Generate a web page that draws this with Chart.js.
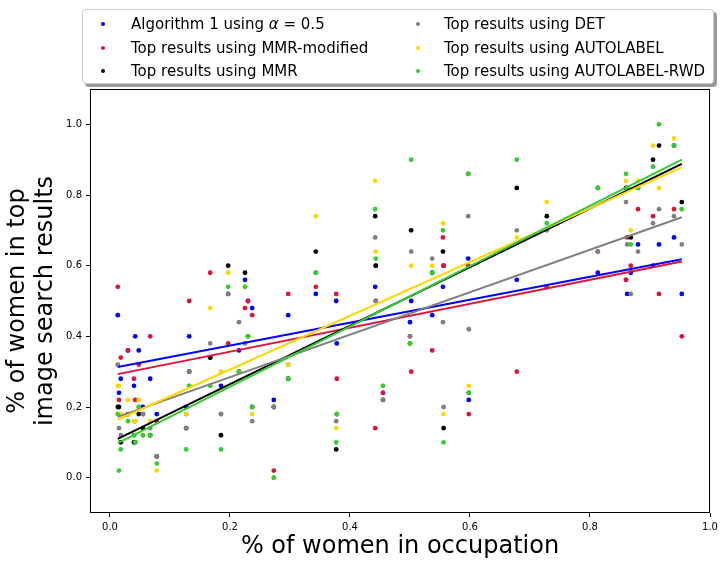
<!DOCTYPE html>
<html>
<head>
<meta charset="utf-8">
<script src="https://cdn.jsdelivr.net/npm/chart.js@4.4.1/dist/chart.umd.min.js"></script>
<style>
  html, body { margin: 0; padding: 0; background: #fff; }
  #wrap { position: relative; width: 726px; height: 566px; font-family: "DejaVu Sans", sans-serif; }
  #legend {
    position: absolute; left: 82px; top: 9px; width: 632px; height: 75px;
    box-sizing: border-box; border: 1px solid #cccccc; border-radius: 4px;
    background: #fff; box-shadow: 3px 3px 0 #9a9a9a;
  }
  .lg-dot { position: absolute; width: 4px; height: 4px; border-radius: 50%; }
  .lg-txt { position: absolute; font-size: 15px; line-height: 18px; white-space: nowrap; color: #000; }
</style>
</head>
<body>
<div id="wrap">
  <canvas id="chart" width="726" height="566"></canvas>
  <div id="legend"></div>
</div>
<script>
// ----------------- DATA -----------------
// x = share of women in each occupation
const occX = [0.013,0.015,0.018,0.030,0.040,0.042,0.048,0.055,0.067,0.078,
              0.127,0.132,0.167,0.185,0.197,0.215,0.225,0.230,0.237,0.273,
              0.297,0.343,0.377,0.378,0.442,0.443,0.455,0.502,0.500,0.537,
              0.555,0.556,0.597,0.598,0.678,0.728,0.813,0.860,0.862,0.868,
              0.880,0.905,0.915,0.940,0.953];

// y = share of women in the top image results, one list per method
const alg1 = [.46,.24,.28,.36,.26,.40,.36,.20,.28,.18, .20,.40,.34,.26,.52,.36,.56,.50,.48,.22,
              .46,.52,.50,.38,.54,.50,.24,.50,.44,.46, .54,.60,.62,.22,.56,.54,.58,.56,.52,.58,
              .66,.60,.66,.68,.52];
const mmrMod = [.54,.22,.34,.36,.28,.22,.32,.18,.40,.16, .18,.50,.58,.18,.38,.30,.48,.50,.46,.02,
                .52,.54,.52,.28,.14,.60,.24,.30,.40,.36, .68,.60,.60,.18,.30,.54,.64,.56,.68,.60,
                .76,.74,.52,.76,.40];
const mmr = [.20,.20,.10,.18,.10,.10,.18,.14,.12,.06, .14,.30,.34,.12,.60,.30,.58,.40,.20,.20,
             .28,.64,.08,.18,.74,.60,.22,.70,.38,.58, .64,.14,.86,.24,.82,.74,.82,.82,.82,.68,
             .82,.90,.94,.94,.78];
const det = [.32,.14,.12,.18,.12,.16,.20,.18,.14,.06, .14,.30,.38,.18,.52,.44,.38,.40,.16,.20,
             .32,.58,.16,.18,.68,.50,.22,.64,.40,.62, .44,.20,.74,.42,.70,.70,.64,.78,.66,.52,
             .64,.72,.76,.74,.66];
const autolabel = [.26,.26,.18,.22,.16,.16,.22,.12,.16,.02, .18,.26,.48,.30,.58,.30,.54,.40,.18,.00,
                   .32,.74,.14,.18,.84,.64,.26,.60,.38,.60, .72,.18,.86,.26,.68,.78,.82,.84,.82,.70,
                   .84,.94,.82,.96,.76];
const autolabelRwd = [.18,.02,.08,.16,.12,.10,.20,.12,.12,.04, .08,.26,.26,.08,.54,.30,.54,.40,.20,.00,
                      .28,.58,.10,.18,.76,.62,.26,.90,.38,.58, .70,.10,.86,.24,.90,.72,.82,.86,.82,.66,
                      .82,.88,1.00,.94,.76];

// fitted trend lines, read at both ends
const fitX = [0.013, 0.953];
const fitAlg1 = [0.313, 0.618];
const fitMmrMod = [0.293, 0.612];
const fitMmr = [0.110, 0.888];
const fitDet = [0.172, 0.737];
const fitAutolabel = [0.164, 0.878];
const fitRwd = [0.098, 0.900];

const seriesNames = ['Algorithm 1 using α = 0.5', 'Top results using MMR-modified', 'Top results using MMR',
                     'Top results using DET', 'Top results using AUTOLABEL', 'Top results using AUTOLABEL-RWD'];
const xTicks = [0.0, 0.2, 0.4, 0.6, 0.8, 1.0];
const yTicks = [0.0, 0.2, 0.4, 0.6, 0.8, 1.0];

// ----------------- STYLE -----------------
const colors = ['#0000ff', '#dc143c', '#000000', '#808080', '#ffd700', '#32cd32'];
const FONT = '"DejaVu Sans", sans-serif';

const ys = [alg1, mmrMod, mmr, det, autolabel, autolabelRwd];
const fits = [fitAlg1, fitMmrMod, fitMmr, fitDet, fitAutolabel, fitRwd];

const toPts = (xs, vals) => xs.map((x, i) => ({ x: x, y: vals[i] }));

// chart.js draws lower "order" on top, so later series get smaller numbers
const datasets = [];
ys.forEach((vals, i) => {
  datasets.push({
    label: seriesNames[i],
    data: toPts(occX, vals),
    backgroundColor: colors[i],
    borderColor: colors[i],
    pointRadius: 2.4,
    pointBorderWidth: 0,
    pointHoverRadius: 2.4,
    order: 30 - i
  });
});
fits.forEach((vals, i) => {
  datasets.push({
    type: 'line',
    label: seriesNames[i] + ' (fit)',
    data: toPts(fitX, vals),
    borderColor: colors[i],
    borderWidth: 2,
    pointRadius: 0,
    fill: false,
    order: 10 - i
  });
});

// frame round the plot area, like matplotlib spines
const frame = {
  id: 'frame',
  afterDatasetsDraw(chart) {
    const { ctx, chartArea: a } = chart;
    ctx.save();
    ctx.strokeStyle = '#000';
    ctx.lineWidth = 1;
    ctx.strokeRect(Math.round(a.left) + 0.5, Math.round(a.top) + 0.5,
                   Math.round(a.right - a.left) - 1, Math.round(a.bottom - a.top) - 1);
    ctx.restore();
  }
};

const tickOpts = () => ({
  color: '#000',
  font: { family: FONT, size: 10 },
  padding: 4,
  callback: v => Number(v).toFixed(1)
});

new Chart(document.getElementById('chart'), {
  type: 'scatter',
  data: { datasets },
  options: {
    responsive: false,
    animation: false,
    devicePixelRatio: 1,
    layout: { padding: { top: 89, right: 16, left: 0, bottom: 0 } },
    plugins: { legend: { display: false }, tooltip: { enabled: false } },
    scales: {
      x: {
        type: 'linear', min: -0.0333, max: 1.0,
        afterBuildTicks: s => { s.ticks = xTicks.map(v => ({ value: v })); },
        afterFit: s => { s.height = 53; },
        ticks: tickOpts(),
        grid: { drawOnChartArea: false, drawTicks: true, tickLength: 4, color: '#000' },
        border: { display: false },
        title: {
          display: true, text: '% of women in occupation', color: '#000',
          font: { family: FONT, size: 24, lineHeight: 1.2 },
          padding: { top: 0, bottom: 5 }
        }
      },
      y: {
        type: 'linear', min: -0.1, max: 1.1,
        afterBuildTicks: s => { s.ticks = yTicks.map(v => ({ value: v })); },
        afterFit: s => { s.width = 90; },
        ticks: tickOpts(),
        grid: { drawOnChartArea: false, drawTicks: true, tickLength: 4, color: '#000' },
        border: { display: false },
        title: {
          display: true, text: ['% of women in top', 'image search results'], color: '#000',
          font: { family: FONT, size: 24, lineHeight: 1.15 },
          padding: { top: 4, bottom: 0 }
        }
      }
    }
  },
  plugins: [frame]
});

// legend: two columns, filled column by column
const legendEl = document.getElementById('legend');
const colLeft = [20, 335];   // dot centre, relative to legend box
const txtLeft = [48, 361];
const rowMid = [14, 37.5, 60.5];
seriesNames.forEach((name, i) => {
  const c = i < 3 ? 0 : 1, r = i % 3;
  const dot = document.createElement('div');
  dot.className = 'lg-dot';
  dot.style.background = colors[i];
  dot.style.left = (colLeft[c] - 2) + 'px';
  dot.style.top = (rowMid[r] - 2) + 'px';
  legendEl.appendChild(dot);
  const t = document.createElement('div');
  t.className = 'lg-txt';
  t.style.left = txtLeft[c] + 'px';
  t.style.top = (rowMid[r] - 9) + 'px';
  if (i === 0) {
    t.innerHTML = 'Algorithm 1 using <i>α</i> = 0.5';
  } else {
    t.textContent = name;
  }
  legendEl.appendChild(t);
});
</script>
</body>
</html>
